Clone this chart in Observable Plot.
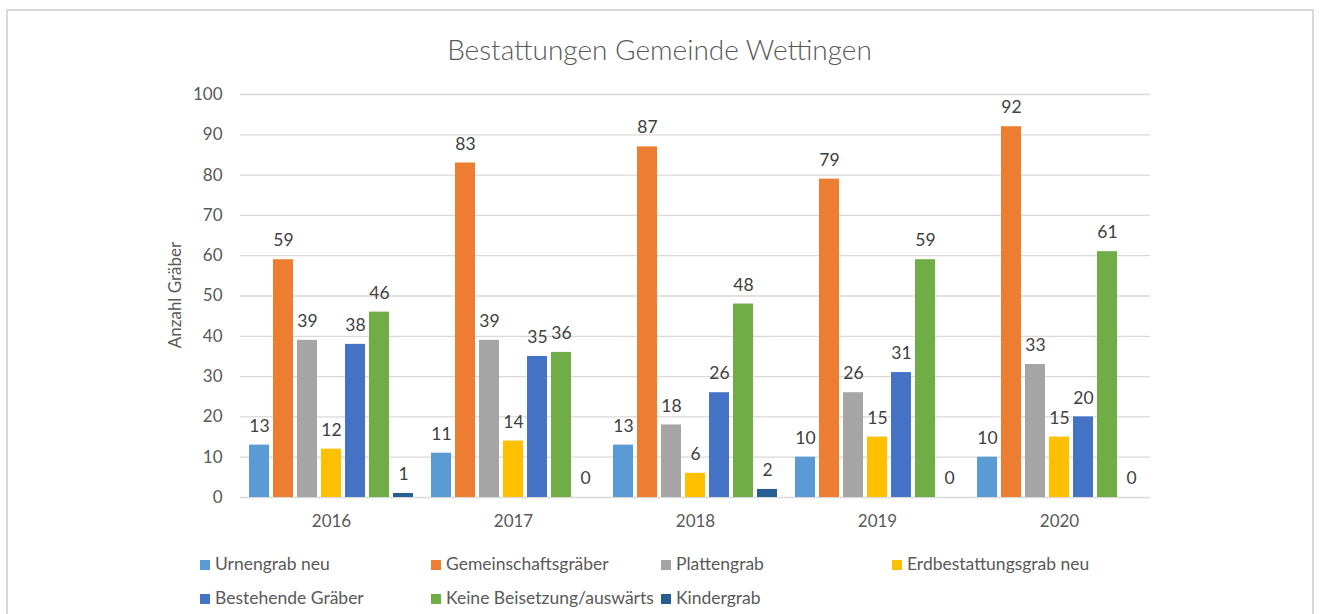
<!DOCTYPE html>
<html>
<head>
<meta charset="utf-8">
<script src="https://cdn.jsdelivr.net/npm/d3@7"></script>
<script src="https://cdn.jsdelivr.net/npm/@observablehq/plot@0.6"></script>
<style>
  html, body { margin: 0; padding: 0; background: #fff; width: 1319px; height: 614px; overflow: hidden; }
  body { font-family: Lato, "Open Sans", sans-serif; position: relative; }
  #frame { position: absolute; left: 6px; top: 9px; width: 1308px; height: 640px; border: 2px solid #d9d9d9; box-sizing: border-box; }
  #title { position: absolute; left: 0; width: 1319px; top: 33px; text-align: center; font-size: 28px; color: #595959; font-weight: 300; line-height: 32px; }
  #ylabel { position: absolute; left: 175px; top: 295px; transform: translate(-50%, -50%) rotate(-90deg); font-size: 17px; color: #595959; white-space: nowrap; line-height: 20px; }
  #chart { position: absolute; left: 0; top: 0; }
  .lg { position: absolute; font-size: 17.5px; color: #595959; line-height: 20px; white-space: nowrap; }
  .sw { position: absolute; width: 10px; height: 10px; }
</style>
</head>
<body>
<div id="frame"></div>
<div id="title">Bestattungen Gemeinde Wettingen</div>
<div id="chart"></div>
<div id="ylabel">Anzahl Gräber</div>
<div id="legend"></div>
<script>
const years = ["2016", "2017", "2018", "2019", "2020"];
const series = ["Urnengrab neu", "Gemeinschaftsgräber", "Plattengrab", "Erdbestattungsgrab neu", "Bestehende Gräber", "Keine Beisetzung/auswärts", "Kindergrab"];
const colors = ["#5B9BD5", "#ED7D31", "#A5A5A5", "#FFC000", "#4472C4", "#70AD47", "#255E91"];
const urnengrab = [13, 11, 13, 10, 10];
const gemeinschaft = [59, 83, 87, 79, 92];
const plattengrab = [39, 39, 18, 26, 33];
const erdbestattung = [12, 14, 6, 15, 15];
const bestehende = [38, 35, 26, 31, 20];
const keine = [46, 36, 48, 59, 61];
const kindergrab = [1, 0, 2, 0, 0];
const yTicks = [0, 10, 20, 30, 40, 50, 60, 70, 80, 90, 100];

const seriesValues = [urnengrab, gemeinschaft, plattengrab, erdbestattung, bestehende, keine, kindergrab];
const data = [];
years.forEach((yr, i) => {
  series.forEach((s, j) => {
    data.push({year: yr, series: s, value: seriesValues[j][i]});
  });
});

const chart = Plot.plot({
  width: 1319,
  height: 545,
  marginLeft: 238,
  marginRight: 167,
  marginTop: 94,
  marginBottom: 48,
  style: {background: "transparent", fontFamily: "Lato, 'Open Sans', sans-serif", fontSize: "17px", color: "#595959"},
  fx: {domain: years, padding: 0, label: null},
  x: {domain: series, paddingInner: 0.177, paddingOuter: 0.33, axis: null},
  y: {domain: [0, 100], label: null},
  color: {domain: series, range: colors},
  marks: [
    Plot.gridY(yTicks, {stroke: "#d9d9d9", strokeOpacity: 1, strokeWidth: 1.3}),
    Plot.axisY(yTicks, {tickSize: 0, tickPadding: 18, fontSize: 17, fill: "#595959", label: null}),
    Plot.axisFx({anchor: "bottom", tickSize: 0, tickPadding: 17, fontSize: 17, fill: "#595959", label: null}),
    Plot.barY(data, {fx: "year", x: "series", y: "value", fill: "series"}),
    Plot.text(data, {fx: "year", x: "series", y: "value", text: d => String(d.value), dy: -19, fill: "#404040", fontSize: 17.5})
  ]
});
document.getElementById("chart").appendChild(chart);

// legend
const legendPos = [[200, 565], [431, 565], [661, 565], [892, 565], [200, 599], [431, 599], [661, 599]];
const lg = document.getElementById("legend");
series.forEach((s, i) => {
  const [x, y] = legendPos[i];
  const sw = document.createElement("div");
  sw.className = "sw";
  sw.style.left = x + "px";
  sw.style.top = (y - 5) + "px";
  sw.style.background = colors[i];
  lg.appendChild(sw);
  const t = document.createElement("div");
  t.className = "lg";
  t.style.left = (x + 15) + "px";
  t.style.top = (y - 11) + "px";
  t.textContent = s;
  lg.appendChild(t);
});
</script>
</body>
</html>
